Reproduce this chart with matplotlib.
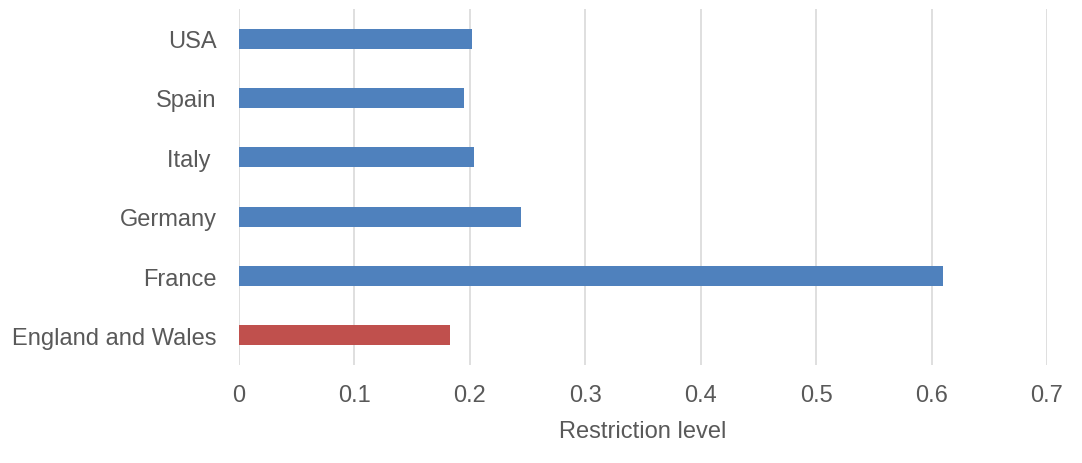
import matplotlib
matplotlib.use("Agg")
import matplotlib.pyplot as plt

categories = ["England and Wales", "France", "Germany", "Italy ", "Spain", "USA"]
values = [0.183, 0.610, 0.244, 0.204, 0.195, 0.202]
colors = ["#C0504D", "#4F81BD", "#4F81BD", "#4F81BD", "#4F81BD", "#4F81BD"]
xticks = [0, 0.1, 0.2, 0.3, 0.4, 0.5, 0.6, 0.7]
xticklabels = ["0", "0.1", "0.2", "0.3", "0.4", "0.5", "0.6", "0.7"]

plt.rcParams['font.family'] = ['Liberation Sans', 'DejaVu Sans']
fig = plt.figure(figsize=(10.82, 4.64), dpi=100)
ax = fig.add_axes([239/1082, 1 - 366/464, (1047-239)/1082, (366-10)/464])

ax.barh(range(len(categories)), values, height=0.34, color=colors, zorder=3)
ax.set_xlim(0, 0.7)
ax.set_ylim(-0.5, len(categories) - 0.5)
ax.set_xticks(xticks)
ax.set_xticklabels(xticklabels)
ax.set_yticks(range(len(categories)))
ax.set_yticklabels(categories)
ax.grid(axis='x', color='#D9D9D9', linewidth=1.2, zorder=0)
for s in ax.spines.values():
    s.set_visible(False)
ax.tick_params(axis='both', length=0, labelsize=17, labelcolor='#595959')
ax.tick_params(axis='x', pad=13.5)
ax.tick_params(axis='y', pad=16)
ax.set_xlabel("Restriction level", fontsize=17, color='#595959', labelpad=10)
fig.savefig("out.png", dpi=100)
